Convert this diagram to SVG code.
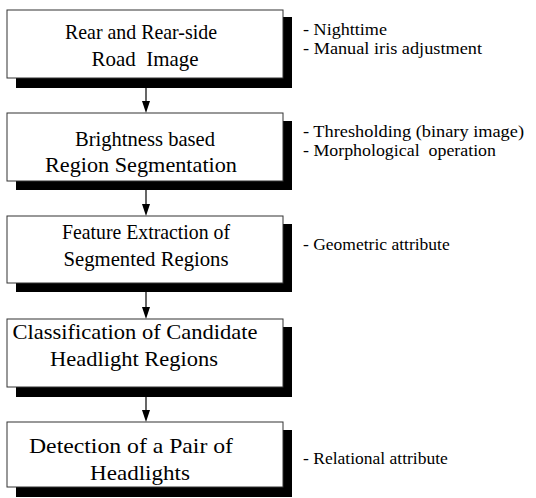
<svg xmlns="http://www.w3.org/2000/svg" width="536" height="498" viewBox="0 0 536 498">
<style>
.box{fill:#fff;stroke:#333;stroke-width:1}
.sh{fill:#000}
.t{font-family:"Liberation Serif","Times New Roman",serif;font-size:21px;fill:#000;text-anchor:middle}
.n{font-family:"Liberation Serif","Times New Roman",serif;font-size:17.5px;fill:#000}
.c{stroke:#000;stroke-width:1.2;fill:none}
.ah{fill:#000}
</style>
<rect width="536" height="498" fill="#fff"/>
<g id="connectors">
<line class="c" x1="146" y1="88" x2="146" y2="103"/>
<polygon class="ah" points="142,101 150,101 146,113"/>
<line class="c" x1="146" y1="190" x2="146" y2="206"/>
<polygon class="ah" points="142,204 150,204 146,216"/>
<line class="c" x1="146" y1="292" x2="146" y2="309"/>
<polygon class="ah" points="142,307 150,307 146,319"/>
<line class="c" x1="146" y1="397" x2="146" y2="412"/>
<polygon class="ah" points="142,410 150,410 146,422"/>
</g>
<g id="n1">
<rect class="sh" x="16" y="17" width="276" height="71"/>
<rect class="box" x="7" y="10" width="276" height="68"/>
<text class="t" x="141" y="39" textLength="152" lengthAdjust="spacingAndGlyphs">Rear and Rear-side</text>
<text class="t" x="145" y="66" xml:space="preserve" textLength="107" lengthAdjust="spacingAndGlyphs">Road  Image</text>
<text class="n" x="303" y="35" textLength="84" lengthAdjust="spacingAndGlyphs">- Nighttime</text>
<text class="n" x="303" y="54" textLength="179" lengthAdjust="spacingAndGlyphs">- Manual iris adjustment</text>
</g>
<g id="n2">
<rect class="sh" x="16" y="121" width="276" height="69"/>
<rect class="box" x="7" y="113" width="276" height="68"/>
<text class="t" x="145" y="146" textLength="140" lengthAdjust="spacingAndGlyphs">Brightness based</text>
<text class="t" x="141" y="172" textLength="192" lengthAdjust="spacingAndGlyphs">Region Segmentation</text>
<text class="n" x="303" y="137" textLength="221" lengthAdjust="spacingAndGlyphs">- Thresholding (binary image)</text>
<text class="n" x="303" y="156" xml:space="preserve" textLength="193" lengthAdjust="spacingAndGlyphs">- Morphological  operation</text>
</g>
<g id="n3">
<rect class="sh" x="16" y="224" width="276" height="68"/>
<rect class="box" x="7" y="216" width="276" height="67"/>
<text class="t" x="146" y="239" textLength="168" lengthAdjust="spacingAndGlyphs">Feature Extraction of</text>
<text class="t" x="146" y="266" textLength="165" lengthAdjust="spacingAndGlyphs">Segmented Regions</text>
<text class="n" x="303" y="250">- Geometric attribute</text>
</g>
<g id="n4">
<rect class="sh" x="16" y="327" width="276" height="70"/>
<rect class="box" x="7" y="319" width="276" height="68"/>
<text class="t" x="135" y="339" textLength="245" lengthAdjust="spacingAndGlyphs">Classification of Candidate</text>
<text class="t" x="134" y="366" textLength="168" lengthAdjust="spacingAndGlyphs">Headlight Regions</text>
</g>
<g id="n5">
<rect class="sh" x="16" y="430" width="276" height="67"/>
<rect class="box" x="7" y="422" width="276" height="65"/>
<text class="t" x="131" y="453" textLength="204" lengthAdjust="spacingAndGlyphs">Detection of a Pair of</text>
<text class="t" x="140" y="480" textLength="100" lengthAdjust="spacingAndGlyphs">Headlights</text>
<text class="n" x="303" y="464">- Relational attribute</text>
</g>
</svg>
